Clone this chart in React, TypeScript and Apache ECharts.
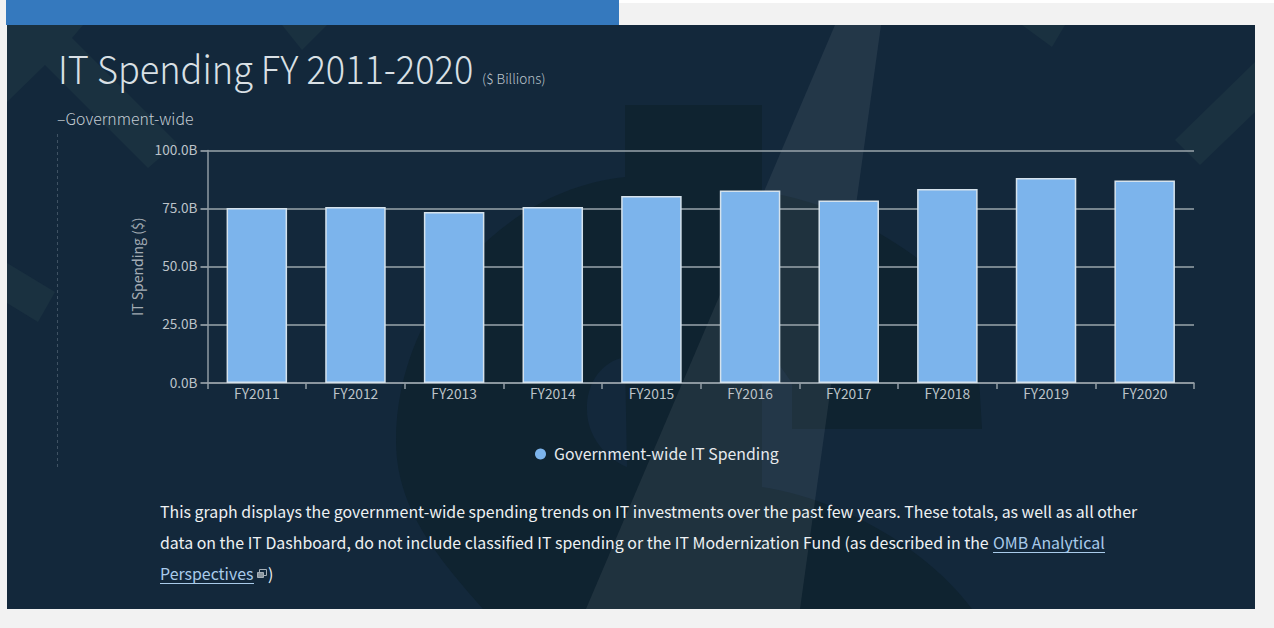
import React, { useEffect, useRef } from "react";
import * as echarts from "echarts";

const fiscalYears = ["FY2011", "FY2012", "FY2013", "FY2014", "FY2015", "FY2016", "FY2017", "FY2018", "FY2019", "FY2020"];
const spendingBillions = [75.3, 75.7, 73.5, 75.7, 80.4, 82.8, 78.5, 83.4, 88.2, 87.1];
const yTicks = { min: 0, max: 100, interval: 25 };
const seriesName = "Government-wide IT Spending";
const paragraphLines = [
  "This graph displays the government-wide spending trends on IT investments over the past few years. These totals, as well as all other",
  "data on the IT Dashboard, do not include classified IT spending or the IT Modernization Fund (as described in the ",
];

const FONT = '"Noto Sans CJK SC", "Noto Sans", sans-serif';
const PANEL = "#13283b";
const DARK = "#0f2330";
const TINT = "#1a3140";
const BODY_SIZE = 15.92;

// Large dollar-sign watermark behind the chart
const dollarOutline =
  "M625,105 L762,105 L762,192 C830,200 910,240 975,310 L982,429 L792,429 L792,383 L762,340 L762,487 C830,497 920,540 972,609 L483,609 C440,560 396,510 396,441 C396,310 500,190 625,177 Z";
const dollarCounter = "M625,357 C600,362 586,385 587,410 C587,435 605,458 627,467 Z";
echarts.graphic.registerShape("dollarOutline", echarts.graphic.extendPath(dollarOutline as any, {}) as any);
echarts.graphic.registerShape("dollarCounter", echarts.graphic.extendPath(dollarCounter as any, {}) as any);

const poly = (points: number[][], fill: string, z = -9) => ({
  type: "polygon",
  z,
  silent: true,
  shape: { points },
  style: { fill },
});

const label = (x: number, y: number, text: string, size: number, fill: string, weight: any = 400, scaleX = 1) => ({
  type: "text",
  z: 5,
  x,
  y,
  scaleX,
  silent: true,
  style: { text, fill, font: `${weight} ${size}px ${FONT}`, textVerticalAlign: "middle" },
});

const rect = (x: number, y: number, width: number, height: number, fill: string, z = -10) => ({
  type: "rect",
  z,
  silent: true,
  shape: { x, y, width, height },
  style: { fill },
});

export default function App() {
  const ref = useRef<HTMLDivElement>(null);

  useEffect(() => {
    const chart = echarts.init(ref.current!, null, { renderer: "svg" });
    chart.setOption({
      animation: false,
      backgroundColor: "#f2f2f2",
      textStyle: { fontFamily: FONT },
      grid: { left: 207.5, top: 150.5, width: 986.5, height: 232.5, containLabel: false },
      legend: {
        left: 530,
        top: 441,
        icon: "circle",
        itemWidth: 11,
        itemHeight: 11,
        selectedMode: false,
        itemStyle: { borderWidth: 0 },
        textStyle: { color: "#e6eaee", fontSize: 15.85, fontFamily: FONT, padding: [0, 0, 0, 3] },
        data: [seriesName],
      },
      xAxis: {
        type: "category",
        data: fiscalYears,
        axisLine: { lineStyle: { color: "#929ca4", width: 1.5 } },
        axisTick: { show: true, length: 6, lineStyle: { color: "#929ca4", width: 1.5 } },
        axisLabel: { color: "#bcc3c9", fontSize: 13.8, margin: 3, fontFamily: FONT },
      },
      yAxis: {
        type: "value",
        ...yTicks,
        name: "IT Spending ($)",
        nameLocation: "middle",
        nameRotate: 90,
        nameGap: 64,
        nameTextStyle: { color: "#a3acb4", fontSize: 14, fontFamily: FONT },
        axisLine: { show: true, lineStyle: { color: "#8f9aa3", width: 1.5 } },
        axisTick: { show: true, length: 7, lineStyle: { color: "#a8b0b7", width: 1.5 } },
        axisLabel: {
          margin: 10,
          formatter: (v: number) => `{tick|${v.toFixed(1)}B}`,
          rich: {
            tick: { color: "#bcc3c9", fontSize: 13.6, fontFamily: FONT, padding: [0, 0, 3, 0] },
          },
        },
        splitLine: { show: true, lineStyle: { color: "#9aa4ab", width: 1.5 } },
      },
      series: [
        {
          name: seriesName,
          type: "bar",
          data: spendingBillions,
          barWidth: 60.5,
          itemStyle: { color: "#7cb4ec", borderColor: "#d5e2ec", borderWidth: 1.5 },
        },
      ],
      graphic: {
        elements: [
          // page furniture
          rect(619, 0, 655, 3, "#ffffff"),
          rect(6, 0, 613, 25, "#3579be"),
          rect(7, 25, 1248, 584, PANEL),
          // watermark
          { type: "dollarOutline", z: -9, x: 0, y: 0, silent: true, style: { fill: DARK } },
          { type: "dollarCounter", z: -9, x: 0, y: 0, silent: true, style: { fill: PANEL } },
          poly([[7, 102], [45, 65], [148, 168], [177, 143], [72, 38], [83, 25], [7, 25]], TINT),
          poly([[282, 25], [327, 25], [302, 50]], TINT),
          poly([[7, 263], [55, 292], [38, 322], [7, 303]], TINT),
          poly([[1022, 25], [1065, 25], [1052, 47]], TINT),
          poly([[1255, 62], [1175, 140], [1200, 165], [1255, 112]], TINT),
          poly([[835, 25], [881, 25], [800, 609], [586, 609]], "rgba(255,255,255,0.07)", -8),
          // headings
          label(58, 67, "IT Spending FY 2011-2020", 39, "#d9e0e5", 300, 0.927),
          label(482, 78, "($ Billions)", 13.5, "#bcc5cc", 300),
          label(57, 118, "\u2013Government-wide", 15.8, "#c3ccd3", 300),
          {
            type: "line",
            z: 1,
            silent: true,
            shape: { x1: 57.5, y1: 134, x2: 57.5, y2: 470 },
            style: { stroke: "#3f5263", lineWidth: 1, lineDash: [3, 3] },
          },
          // description
          label(160, 511, paragraphLines[0], BODY_SIZE, "#eef1f3"),
          label(160, 542, paragraphLines[1], BODY_SIZE, "#eef1f3"),
          label(993, 542, "OMB Analytical", BODY_SIZE, "#a9cbea"),
          label(160, 573, "Perspectives", BODY_SIZE, "#a9cbea"),
          label(268, 573, ")", BODY_SIZE, "#eef1f3"),
          { type: "line", z: 5, silent: true, shape: { x1: 993, y1: 552.5, x2: 1105, y2: 552.5 }, style: { stroke: "#a9cbea", lineWidth: 1 } },
          { type: "line", z: 5, silent: true, shape: { x1: 160, y1: 583.5, x2: 254, y2: 583.5 }, style: { stroke: "#a9cbea", lineWidth: 1 } },
          // external-link icon
          { type: "rect", z: 5, silent: true, shape: { x: 259.5, y: 569.5, width: 7, height: 6 }, style: { fill: "none", stroke: "#a6afb6", lineWidth: 1 } },
          { type: "rect", z: 5, silent: true, shape: { x: 257.5, y: 572.5, width: 6, height: 5 }, style: { fill: "#8c979f", stroke: "#a6afb6", lineWidth: 1 } },
        ],
      },
    });
    return () => chart.dispose();
  }, []);

  return <div ref={ref} style={{ position: "absolute", left: 0, top: 0, width: 1274, height: 628 }} />;
}
